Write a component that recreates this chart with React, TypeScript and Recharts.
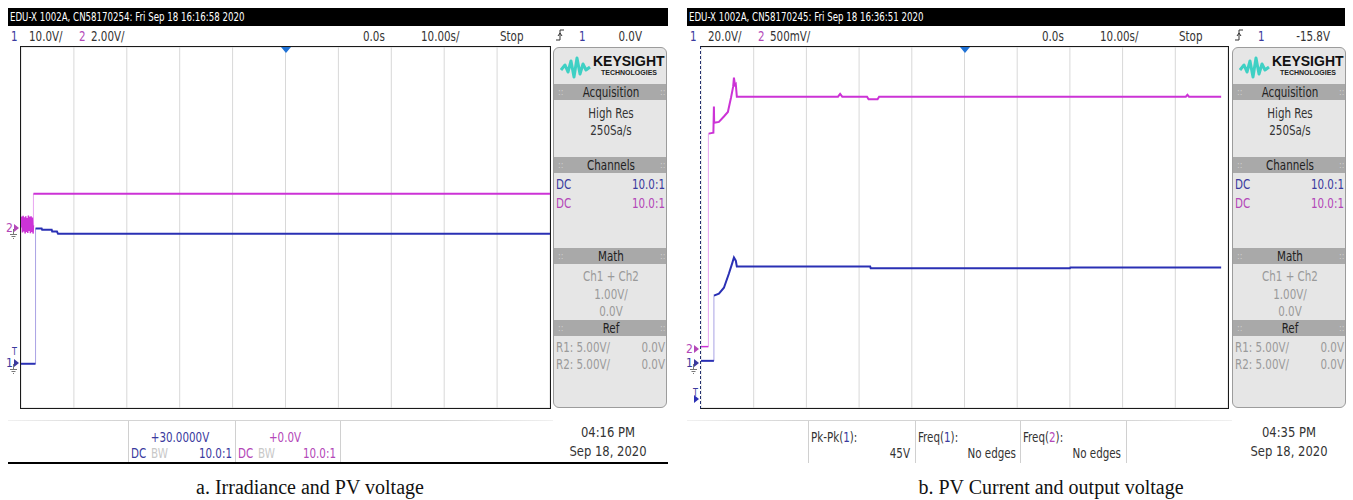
import React from "react";
import { LineChart, Line, XAxis, YAxis, CartesianGrid, ReferenceLine } from "recharts";

type Pt = { t: number; v: number };
type Ch = { vdiv: number; gnd: number };

// time axis in seconds, 10 s/div centred on the trigger
const timeTicks = [-50, -40, -30, -20, -10, 0, 10, 20, 30, 40, 50];
const divTicks = [-4, -3, -2, -1, 0, 1, 2, 3, 4];

// a. irradiance (ch1) and PV voltage (ch2), volts
const aCh1Before: Pt[] = [{ t: -50, v: -0.2 }, { t: -47.25, v: -0.2 }];
const aCh1After: Pt[] = [
  { t: -47.25, v: 29.8 }, { t: -46.1, v: 29.8 }, { t: -46.0, v: 29.5 }, { t: -44.2, v: 29.5 },
  { t: -44.1, v: 29.1 }, { t: -43.2, v: 29.1 }, { t: -43.0, v: 28.6 }, { t: 50, v: 28.6 },
];
const aCh2Before: Pt[] = [
  { t: -50, v: 0 }, { t: -49.85, v: 0.48 }, { t: -49.72, v: -0.22 }, { t: -49.6, v: 0.52 },
  { t: -49.47, v: -0.18 }, { t: -49.35, v: 0.45 }, { t: -49.22, v: -0.26 }, { t: -49.1, v: 0.5 },
  { t: -48.97, v: -0.2 }, { t: -48.85, v: 0.42 }, { t: -48.72, v: -0.24 }, { t: -48.6, v: 0.53 },
  { t: -48.47, v: -0.15 }, { t: -48.35, v: 0.47 }, { t: -48.22, v: -0.25 }, { t: -48.1, v: 0.5 },
  { t: -47.97, v: -0.2 }, { t: -47.85, v: 0.44 }, { t: -47.72, v: -0.27 }, { t: -47.65, v: 0.1 },
];
const aCh2After: Pt[] = [{ t: -47.65, v: 1.5 }, { t: 50, v: 1.5 }];

// b. PV current (ch1) and output voltage (ch2), volts
const bCh1Before: Pt[] = [{ t: -50, v: 0.9 }, { t: -47.55, v: 0.9 }];
const bCh1After: Pt[] = [
  { t: -47.55, v: 29.8 }, { t: -46.6, v: 30.7 }, { t: -45.65, v: 33.3 }, { t: -44.7, v: 39.6 },
  { t: -44.1, v: 44.0 }, { t: -43.75, v: 46.7 }, { t: -43.4, v: 45.3 }, { t: -43.2, v: 42.7 },
  { t: -17.9, v: 42.7 }, { t: -17.8, v: 41.9 }, { t: 20, v: 41.9 }, { t: 20.1, v: 42.3 },
  { t: 48.7, v: 42.3 },
];
const bCh2Before: Pt[] = [{ t: -50, v: 0.03 }, { t: -48.6, v: 0.03 }];
const bCh2After: Pt[] = [
  { t: -48.55, v: 2.39 }, { t: -47.65, v: 2.4 }, { t: -47.55, v: 2.69 }, { t: -47.5, v: 2.51 },
  { t: -46.6, v: 2.52 }, { t: -45.65, v: 2.58 }, { t: -44.9, v: 2.63 }, { t: -44.3, v: 2.79 },
  { t: -43.9, v: 2.91 }, { t: -43.75, v: 3.01 }, { t: -43.56, v: 2.93 }, { t: -43.4, v: 2.94 },
  { t: -43.2, v: 2.8 }, { t: -24, v: 2.8 }, { t: -23.6, v: 2.83 }, { t: -23.2, v: 2.8 },
  { t: -18.5, v: 2.8 }, { t: -18.2, v: 2.77 }, { t: -16.5, v: 2.77 }, { t: -16.2, v: 2.8 },
  { t: 42, v: 2.8 }, { t: 42.3, v: 2.82 }, { t: 42.6, v: 2.8 }, { t: 48.7, v: 2.8 },
];

const UI = '"Liberation Sans Narrow", "DejaVu Sans Condensed", "Arial Narrow", sans-serif';
const C1 = "#3a3a9e";
const C2 = "#b347b8";
const TRACE1 = "#2a30b4";
const TRACE2 = "#cc33d6";
const JUMP1 = "#aaa2e4";
const JUMP2 = "#e9a6f0";

const dom = (c: Ch): [number, number] => [(-4 - c.gnd) * c.vdiv, (4 - c.gnd) * c.vdiv];
const jump = (a: Pt[], b: Pt[]) => [a[a.length - 1], { t: a[a.length - 1].t, v: b[0].v }];

function T({ x, y, children, color = "#333", size = 14, align = "left", bold = false, family = UI, sx = 0.82 }: any) {
  const shift = align === "center" ? "translateX(-50%)" : align === "right" ? "translateX(-100%)" : "";
  const origin = align === "center" ? "center center" : align === "right" ? "right center" : "left center";
  return (
    <div
      style={{
        position: "absolute", left: x, top: y - size / 2 - 1, lineHeight: `${size + 2}px`, fontSize: size,
        color, whiteSpace: "nowrap", transform: `${shift} scaleX(${sx})`, transformOrigin: origin,
        fontWeight: bold ? 700 : 400, fontFamily: family,
      }}
    >
      {children}
    </div>
  );
}

function Plot({ w, h, ch1, ch2, c1b, c1a, c2b, c2a, level }: any) {
  const minorX: number[] = [];
  for (let i = -25; i <= 25; i++) minorX.push(i * 2);
  const minorY: number[] = [];
  for (let i = -20; i <= 20; i++) minorY.push(i / 5);
  return (
    <LineChart width={w} height={h} margin={{ top: 0, right: 0, bottom: 0, left: 0 }}>
      <XAxis type="number" dataKey="t" domain={[-50, 50]} ticks={timeTicks} hide allowDataOverflow />
      <YAxis yAxisId="div" type="number" domain={[-4, 4]} ticks={divTicks} hide />
      <YAxis yAxisId="c1" type="number" domain={dom(ch1)} hide allowDataOverflow />
      <YAxis yAxisId="c2" type="number" domain={dom(ch2)} hide allowDataOverflow />
      <CartesianGrid yAxisId="div" stroke="#d8d8d8" />
      {minorX.map((t) => (
        <ReferenceLine key={"x" + t} yAxisId="div" segment={[{ x: t, y: -0.07 }, { x: t, y: 0.07 }]} stroke="#c4c4c4" />
      ))}
      {minorY.map((d) => (
        <ReferenceLine key={"y" + d} yAxisId="div" segment={[{ x: -0.4, y: d }, { x: 0.4, y: d }]} stroke="#c4c4c4" />
      ))}
      {level !== undefined && (
        <ReferenceLine yAxisId="div" y={level} stroke="#3f8ea6" strokeDasharray="4 3" />
      )}
      <Line yAxisId="c1" data={jump(c1b, c1a)} dataKey="v" stroke={JUMP1} strokeWidth={1} dot={false} isAnimationActive={false} />
      <Line yAxisId="c2" data={jump(c2b, c2a)} dataKey="v" stroke={JUMP2} strokeWidth={1} dot={false} isAnimationActive={false} />
      <Line yAxisId="c2" data={c2b} dataKey="v" stroke={TRACE2} strokeWidth={1.5} dot={false} isAnimationActive={false} />
      <Line yAxisId="c2" data={c2a} dataKey="v" stroke={TRACE2} strokeWidth={2} dot={false} isAnimationActive={false} />
      <Line yAxisId="c1" data={c1b} dataKey="v" stroke={TRACE1} strokeWidth={2} dot={false} isAnimationActive={false} />
      <Line yAxisId="c1" data={c1a} dataKey="v" stroke={TRACE1} strokeWidth={2} dot={false} isAnimationActive={false} />
    </LineChart>
  );
}

function Marker({ x, y, label, color, ground }: any) {
  return (
    <svg style={{ position: "absolute", left: x, top: y - 8 }} width={16} height={20}>
      <text x={0} y={12} fontSize={12} fill={color} fontFamily={UI}>{label}</text>
      <polygon points="8,4 13,8 8,12" fill={color} />
      {ground && (
        <g stroke="#777" strokeWidth={1}>
          <line x1={7.5} y1={9} x2={7.5} y2={14} />
          <line x1={4} y1={14.5} x2={11} y2={14.5} />
          <line x1={5.5} y1={16.5} x2={9.5} y2={16.5} />
          <line x1={7} y1={18.5} x2={8} y2={18.5} />
        </g>
      )}
    </svg>
  );
}

function Bar({ y, label }: any) {
  return (
    <div style={{ position: "absolute", left: 0, top: y, width: "100%", height: 16, background: "#a9a9a9" }}>
      <T x={4} y={8} size={9} color="#d0d0d0" sx={1}>::</T>
      <T x={57} y={8} color="#222" align="center">{label}</T>
      <T x={106} y={8} size={9} color="#d0d0d0" sx={1}>::</T>
    </div>
  );
}

function Panel({ x }: any) {
  return (
    <div
      style={{
        position: "absolute", left: x, top: 47, width: 114, height: 361, background: "#e6e6e6",
        border: "1px solid #9c9c9c", borderRadius: 6, boxSizing: "border-box", overflow: "hidden",
      }}
    >
      <svg style={{ position: "absolute", left: 6, top: 8 }} width={32} height={24}>
        <polyline points="1,14 5,9 8,16 11,5 14,21 17,2 20,18 23,8 26,14 30,11" fill="none" stroke="#3fd0c4" strokeWidth={3} strokeLinejoin="round" />
      </svg>
      <T x={39} y={13} size={14} bold color="#111" sx={1} family='"Liberation Sans", Arial, sans-serif'>KEYSIGHT</T>
      <T x={47} y={24} size={7} bold color="#222" sx={1} family='"Liberation Sans", Arial, sans-serif'>TECHNOLOGIES</T>
      <Bar y={36} label="Acquisition" />
      <T x={57} y={65} align="center">High Res</T>
      <T x={57} y={82} align="center">250Sa/s</T>
      <Bar y={109} label="Channels" />
      <T x={2} y={136} color={C1}>DC</T>
      <T x={111} y={136} color={C1} align="right">10.0:1</T>
      <T x={2} y={155} color={C2}>DC</T>
      <T x={111} y={155} color={C2} align="right">10.0:1</T>
      <Bar y={200} label="Math" />
      <T x={57} y={228} align="center" color="#9a9a9a">Ch1 + Ch2</T>
      <T x={57} y={246} align="center" color="#9a9a9a">1.00V/</T>
      <T x={57} y={263} align="center" color="#9a9a9a">0.0V</T>
      <Bar y={272} label="Ref" />
      <T x={2} y={299} color="#9a9a9a">R1:  5.00V/</T>
      <T x={111} y={299} color="#9a9a9a" align="right">0.0V</T>
      <T x={2} y={316} color="#9a9a9a">R2:  5.00V/</T>
      <T x={111} y={316} color="#9a9a9a" align="right">0.0V</T>
    </div>
  );
}

function TrigIcon({ x }: any) {
  return (
    <svg style={{ position: "absolute", left: x, top: 28 }} width={10} height={15}>
      <path d="M1,12 H5 V2 H9" fill="none" stroke="#333" strokeWidth={1} />
      <path d="M3,8 L5,5 L7,8" fill="none" stroke="#333" strokeWidth={1} />
    </svg>
  );
}

function Scope(p: any) {
  const ox = p.ox;
  const top = 47;
  const h = 361;
  const gy = (g: number) => top + ((4 - g) / 8) * h;
  return (
    <>
      <div style={{ position: "absolute", left: ox, top: 8, width: p.barW, height: 18, background: "#000" }} />
      <T x={ox + 2} y={17} size={12} sx={0.8} color="#fff">{p.title}</T>
      <T x={ox + 3} y={36} color={C1}>1</T>
      <T x={ox + 21} y={36}>{p.v1}</T>
      <T x={ox + 71} y={36} color={C2}>2</T>
      <T x={ox + 83} y={36}>{p.v2}</T>
      <T x={ox + 355} y={36}>0.0s</T>
      <T x={ox + 413} y={36}>10.00s/</T>
      <T x={ox + 492} y={36}>Stop</T>
      <TrigIcon x={ox + 547} />
      <T x={ox + 571} y={36} color={C1}>1</T>
      <T x={ox + p.trigRight} y={36} align="right">{p.trig}</T>

      <div style={{ position: "absolute", left: p.px, top, width: p.pw, height: h }}>
        <Plot w={p.pw} h={h} ch1={p.ch1} ch2={p.ch2} c1b={p.c1b} c1a={p.c1a} c2b={p.c2b} c2a={p.c2a} level={p.level} />
      </div>
      <div
        style={{
          position: "absolute", left: p.px - 1, top: top - 1, width: p.pw + 2, height: h + 2, boxSizing: "border-box",
          border: "1px solid #1a1a1a", borderLeft: p.dashedLeft ? "1px dashed #23306e" : "1px solid #1a1a1a",
        }}
      />
      <div
        style={{
          position: "absolute", left: p.px + p.pw / 2 - 5, top: top, width: 0, height: 0,
          borderLeft: "5px solid transparent", borderRight: "5px solid transparent", borderTop: "6px solid #1f72d6",
        }}
      />
      {p.markers.map((m: any, i: number) => (
        <Marker key={i} x={p.px - 15} y={gy(m.g)} label={m.label} color={m.color} ground={m.ground} />
      ))}
      {p.tMark !== undefined && (
        <T x={p.px - 9} y={gy(p.tMark) - 11} size={11} color={C1}>T</T>
      )}
      {p.tArrow !== undefined && (
        <>
          <T x={p.px - 8} y={gy(p.tArrow) - 6} size={11} color={C1}>T</T>
          <div
            style={{
              position: "absolute", left: p.px - 7, top: gy(p.tArrow) - 4, width: 0, height: 0,
              borderTop: "4px solid transparent", borderBottom: "4px solid transparent", borderLeft: "5px solid #2a30b4",
            }}
          />
        </>
      )}

      <Panel x={p.panelX} />

      <div
        style={{
          position: "absolute", left: ox, top: 420, width: p.panelX - ox, height: 1,
          background: "linear-gradient(to right, #f0f0f0, #d4d4d4 20%, #d4d4d4 80%, #f0f0f0)",
        }}
      />
      {p.seps.map((s: number) => (
        <div key={s} style={{ position: "absolute", left: ox + s, top: 421, width: 1, height: 42, background: "#d0d0d0" }} />
      ))}
      {p.bottom}
      <T x={ox + p.dateX} y={432} align="center" sx={0.92}>{p.time}</T>
      <T x={ox + p.dateX} y={451} align="center" sx={0.92}>Sep 18, 2020</T>
      {p.blackLine && <div style={{ position: "absolute", left: ox, top: 462, width: p.barW, height: 2, background: "#000" }} />}
      <T x={p.capX} y={487} size={20} sx={1} color="#111" align="center" family='"Liberation Serif", "Times New Roman", serif'>
        {p.caption}
      </T>
    </>
  );
}

export default function App() {
  const aBottom = (
    <>
      <T x={180} y={437} color={C1} align="center">+30.0000V</T>
      <T x={131} y={453} color={C1}>DC</T>
      <T x={151} y={453} color="#c8c8c8">BW</T>
      <T x={232} y={453} color={C1} align="right">10.0:1</T>
      <T x={285} y={437} color={C2} align="center">+0.0V</T>
      <T x={238} y={453} color={C2}>DC</T>
      <T x={258} y={453} color="#c8c8c8">BW</T>
      <T x={336} y={453} color={C2} align="right">10.0:1</T>
    </>
  );
  const bBottom = (
    <>
      <T x={811} y={437}>Pk-Pk(<span style={{ color: C1 }}>1</span>):</T>
      <T x={910} y={453} align="right">45V</T>
      <T x={918} y={437}>Freq(<span style={{ color: C1 }}>1</span>):</T>
      <T x={1016} y={453} align="right">No edges</T>
      <T x={1023} y={437}>Freq(<span style={{ color: C2 }}>2</span>):</T>
      <T x={1121} y={453} align="right">No edges</T>
    </>
  );
  return (
    <div style={{ position: "absolute", left: 0, top: 0, width: 1353, height: 500, background: "#fff", overflow: "hidden", fontFamily: UI }}>
      <Scope
        ox={8} barW={660} title="EDU-X 1002A, CN58170254: Fri Sep 18 16:16:58 2020"
        v1="10.0V/" v2="2.00V/" trig="0.0V" trigRight={634}
        px={21} pw={529} panelX={553}
        ch1={{ vdiv: 10, gnd: -3 }} ch2={{ vdiv: 2, gnd: 0 }}
        c1b={aCh1Before} c1a={aCh1After} c2b={aCh2Before} c2a={aCh2After}
        markers={[
          { g: 0, label: "2", color: C2, ground: true },
          { g: -3, label: "1", color: C1, ground: true },
        ]}
        tMark={-3}
        seps={[120, 227, 332]} bottom={aBottom} time="04:16 PM" dateX={600} blackLine
        caption="a. Irradiance and PV voltage" capX={310}
      />
      <Scope
        ox={687} barW={658} title="EDU-X 1002A, CN58170245: Fri Sep 18 16:36:51 2020"
        v1="20.0V/" v2="500mV/" trig="-15.8V" trigRight={643}
        px={701} pw={527} panelX={1232} dashedLeft level={0.11}
        ch1={{ vdiv: 20, gnd: -3 }} ch2={{ vdiv: 0.5, gnd: -2.7 }}
        c1b={bCh1Before} c1a={bCh1After} c2b={bCh2Before} c2a={bCh2After}
        markers={[
          { g: -2.7, label: "2", color: C2, ground: false },
          { g: -3, label: "1", color: C1, ground: true },
        ]}
        tArrow={-3.79}
        seps={[121, 228, 333, 439]} bottom={bBottom} time="04:35 PM" dateX={602}
        caption="b. PV Current and output voltage" capX={1051}
      />
    </div>
  );
}
